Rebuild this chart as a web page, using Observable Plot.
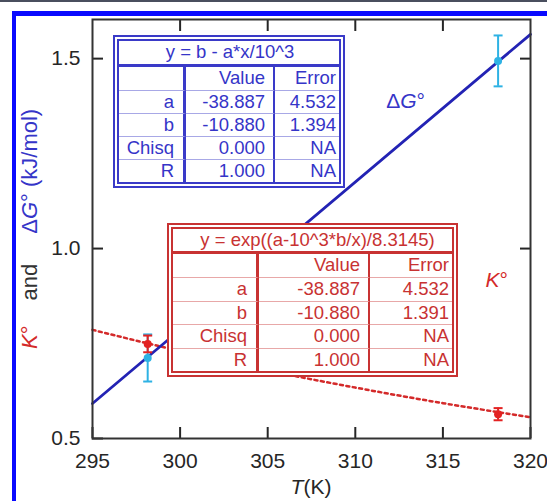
<!DOCTYPE html>
<html>
<head>
<meta charset="utf-8">
<script src="https://cdn.jsdelivr.net/npm/d3@7"></script>
<script src="https://cdn.jsdelivr.net/npm/@observablehq/plot@0.6"></script>
<style>
html, body { margin: 0; padding: 0; background: #fff; }
#wrap { position: relative; width: 547px; height: 501px; overflow: hidden; font-family: "Liberation Sans", Arial, Helvetica, sans-serif; }
#wrap svg { position: absolute; left: 0; top: 0; }
.topline { position: absolute; left: 0; top: 0; width: 547px; height: 1.5px; background: #4a4f5e; }
.band { position: absolute; left: 12px; top: 11px; right: -20px; bottom: -20px; border-left: 4.5px solid #0a0aff; border-top: 5px solid #0a0aff; pointer-events: none; }
.tbl { position: absolute; box-sizing: border-box; background: #fff; font-size: 18.5px; line-height: 1; }
.tbl .cell { box-sizing: border-box; display: flex; align-items: center; justify-content: flex-end; white-space: nowrap; }
</style>
</head>
<body>
<div id="wrap"></div>
<script>
// ---------------- data ----------------
const pointT = [298.15, 318.15];
const dGValues = [0.712, 1.494];
const dGErrors = [0.062, 0.067];
const KValues = [0.749, 0.564];
const KErrors = [0.022, 0.016];

const fitLineT = [295, 320];
const fitLineDG = [0.592, 1.564];

const fitCurveT = [295, 300, 305, 310, 315, 320];
const fitCurveK = [0.786, 0.730, 0.679, 0.634, 0.593, 0.556];

const xTickValues = [295, 300, 305, 310, 315, 320];
const yTickValues = [0.5, 1.0, 1.5];

const tableHeader = ["", "Value", "Error"];
const paramNames = ["a", "b", "Chisq", "R"];
const blueTitle = "y = b - a*x/10^3";
const blueValues = ["-38.887", "-10.880", "0.000", "1.000"];
const blueErrors = ["4.532", "1.394", "NA", "NA"];
const redTitle = "y = exp((a-10^3*b/x)/8.3145)";
const redValues = ["-38.887", "-10.880", "0.000", "1.000"];
const redErrors = ["4.532", "1.391", "NA", "NA"];

// ---------------- styles ----------------
const BLUE_LINE = "#2323b4";
const BLUE_TEXT = "#3535c8";
const CYAN = "#2eb2e4";
const RED = "#e32222";
const RED_LINE = "#d42a2a";
const RED_TEXT = "#c83232";
const INK = "#262626";

const dG = pointT.map((T, i) => ({T, v: dGValues[i], e: dGErrors[i]}));
const Kp = pointT.map((T, i) => ({T, v: KValues[i], e: KErrors[i]}));
const fitLine = fitLineT.map((T, i) => ({T, v: fitLineDG[i]}));
const fitCurve = fitCurveT.map((T, i) => ({T, v: fitCurveK[i]}));

const capSymbol = {
  draw(context, size) {
    const r = Math.sqrt(size / Math.PI);
    context.moveTo(-r, 0);
    context.lineTo(r, 0);
  }
};

function errorBars(data, color) {
  return [
    Plot.ruleX(data, {x: "T", y1: d => d.v - d.e, y2: d => d.v + d.e, stroke: color, strokeWidth: 2}),
    Plot.dot(data, {x: "T", y: d => d.v + d.e, symbol: capSymbol, r: 4.5, stroke: color, strokeWidth: 2, fill: "none"}),
    Plot.dot(data, {x: "T", y: d => d.v - d.e, symbol: capSymbol, r: 4.5, stroke: color, strokeWidth: 2, fill: "none"}),
    Plot.dot(data, {x: "T", y: "v", r: 4, fill: color, stroke: "none"})
  ];
}

const plot = Plot.plot({
  width: 547,
  height: 501,
  marginLeft: 92,
  marginRight: 17,
  marginTop: 19,
  marginBottom: 63,
  style: {fontFamily: "Liberation Sans, Arial, Helvetica, sans-serif", fontSize: "21px", color: INK, background: "transparent", overflow: "visible"},
  x: {domain: [295, 320]},
  y: {domain: [0.5, 1.603]},
  marks: [
    Plot.line(fitCurve, {x: "T", y: "v", stroke: RED_LINE, strokeWidth: 2.5, strokeDasharray: "3,3.5", curve: "natural"}),
    Plot.line(fitLine, {x: "T", y: "v", stroke: BLUE_LINE, strokeWidth: 2.8}),
    ...errorBars(dG, CYAN),
    ...errorBars(Kp, RED),
    Plot.axisX({anchor: "bottom", ticks: xTickValues, tickSize: -11, tickPadding: 26, strokeWidth: 2, label: null, tickFormat: d => String(d)}),
    Plot.axisX({anchor: "top", ticks: xTickValues.slice(1, -1), tickSize: -11, strokeWidth: 2, label: null, tickFormat: () => ""}),
    Plot.axisY({anchor: "left", ticks: yTickValues, tickSize: -11, tickPadding: 23, strokeWidth: 2, label: null, tickFormat: d3.format(".1f")}),
    Plot.axisY({anchor: "right", ticks: yTickValues.slice(1), tickSize: -11, strokeWidth: 2, label: null, tickFormat: () => ""}),
    Plot.frame({stroke: "#333", strokeWidth: 2})
  ]
});

const wrap = document.getElementById("wrap");
wrap.appendChild(plot);

const xs = plot.scale("x"), ys = plot.scale("y");
const svg = d3.select(plot);

// axis title
const xt = svg.append("text")
  .attr("x", (xs.apply(295) + xs.apply(320)) / 2)
  .attr("y", 494)
  .attr("text-anchor", "middle")
  .attr("font-size", 21)
  .attr("fill", INK);
xt.append("tspan").attr("font-style", "italic").text("T");
xt.append("tspan").text("(K)");

// y title (rotated, multi-colour)
const yl = svg.append("text")
  .attr("transform", "translate(37,349) rotate(-90)")
  .attr("font-size", 22)
  .attr("text-anchor", "start");
yl.append("tspan").attr("fill", RED_LINE).attr("font-style", "italic").text("K");
yl.append("tspan").attr("fill", RED_LINE).text("°");
yl.append("tspan").attr("fill", "#333").attr("dx", 25).text("and");
yl.append("tspan").attr("fill", BLUE_TEXT).attr("dx", 30).text("Δ");
yl.append("tspan").attr("fill", BLUE_TEXT).attr("font-style", "italic").text("G");
yl.append("tspan").attr("fill", BLUE_TEXT).text("° (kJ/mol)");

// in-plot series labels
const dgLabel = svg.append("text")
  .attr("x", xs.apply(312.9)).attr("y", ys.apply(1.369))
  .attr("text-anchor", "middle").attr("font-size", 21).attr("fill", BLUE_TEXT);
dgLabel.append("tspan").text("Δ");
dgLabel.append("tspan").attr("font-style", "italic").text("G");
dgLabel.append("tspan").text("°");

const kLabel = svg.append("text")
  .attr("x", xs.apply(318.1)).attr("y", ys.apply(0.897))
  .attr("text-anchor", "middle").attr("font-size", 21).attr("fill", RED_LINE);
kLabel.append("tspan").attr("font-style", "italic").text("K");
kLabel.append("tspan").text("°");

// fit-result tables
function buildTable(cfg) {
  const el = document.createElement("div");
  el.className = "tbl";
  Object.assign(el.style, {
    left: cfg.left + "px", top: cfg.top + "px",
    width: cfg.width + "px", height: cfg.height + "px",
    border: `6px double ${cfg.color}`, color: cfg.text
  });
  const title = document.createElement("div");
  Object.assign(title.style, {
    height: cfg.titleH + "px", boxSizing: "border-box",
    borderBottom: `3px solid ${cfg.color}`,
    display: "flex", alignItems: "center", justifyContent: "center",
    paddingLeft: cfg.titleShift + "px"
  });
  title.textContent = cfg.title;
  el.appendChild(title);
  const rowH = (cfg.height - 12 - cfg.titleH) / 5;
  const grid = document.createElement("div");
  Object.assign(grid.style, {
    display: "grid",
    gridTemplateColumns: cfg.cols.map(c => c + "px").join(" "),
    gridAutoRows: rowH + "px"
  });
  const rows = [tableHeader].concat(paramNames.map((n, i) => [n, cfg.values[i], cfg.errors[i]]));
  rows.forEach((row, r) => {
    row.forEach((txt, c) => {
      const cell = document.createElement("div");
      cell.className = "cell";
      cell.textContent = txt;
      cell.style.paddingRight = cfg.pads[c] + "px";
      if (c === 0) cell.style.borderRight = `3px solid ${cfg.color}`;
      if (c === 1) cell.style.borderRight = `2px solid ${cfg.color}`;
      if (r > 0) cell.style.borderTop = `1px solid ${cfg.light}`;
      grid.appendChild(cell);
    });
  });
  el.appendChild(grid);
  wrap.appendChild(el);
}

buildTable({
  left: 113, top: 35, width: 232, height: 153, titleH: 26, titleShift: 2,
  cols: [67, 89, 64], pads: [9, 8, 3],
  color: "#3a3ac8", light: "#a8a8e6", text: BLUE_TEXT,
  title: blueTitle, values: blueValues, errors: blueErrors
});
buildTable({
  left: 167, top: 223, width: 291, height: 154, titleH: 25, titleShift: 10,
  cols: [86, 111, 82], pads: [9, 8, 3],
  color: "#c83232", light: "#e8a8a8", text: RED_TEXT,
  title: redTitle, values: redValues, errors: redErrors
});

// page decoration
const topline = document.createElement("div");
topline.className = "topline";
wrap.appendChild(topline);
const band = document.createElement("div");
band.className = "band";
wrap.appendChild(band);
</script>
</body>
</html>
